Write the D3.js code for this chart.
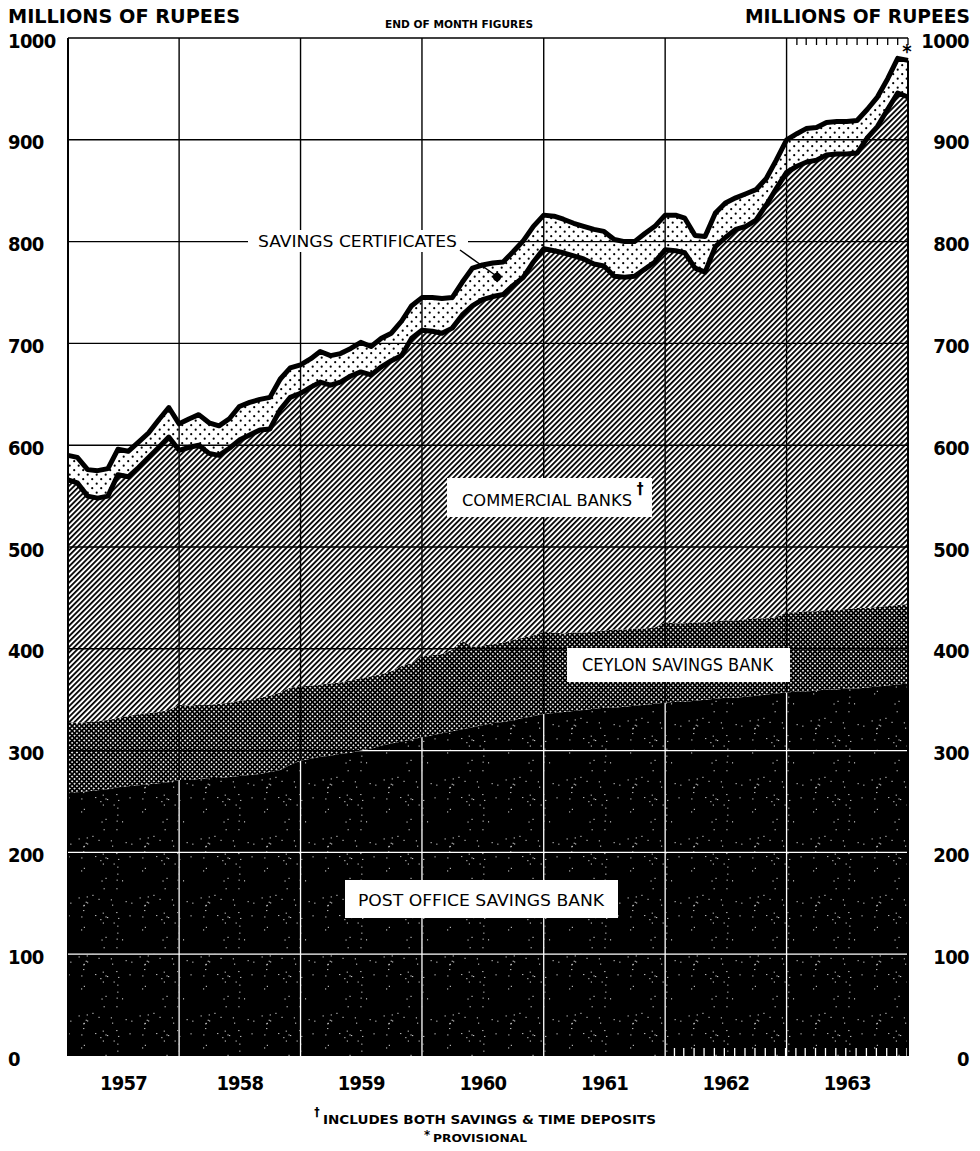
<!DOCTYPE html>
<html><head><meta charset="utf-8">
<script src="https://cdn.jsdelivr.net/npm/d3@7"></script>
<style>body{margin:0;background:#fff} svg{display:block}</style>
</head><body>
<svg id="c" width="980" height="1151"></svg>
<script>
// ---------------- DATA (millions of rupees, end of month, Jan 1957 – Dec 1963) ----------------
const yearLabels = ["1957","1958","1959","1960","1961","1962","1963"];
const yTickValues = [0,100,200,300,400,500,600,700,800,900,1000];

const postOffice = [258,259,260,261,262,264,265,266,267,268,269,271,
271,272,273,273,274,275,276,277,279,281,286,290,
292,294,295,297,298,300,302,305,307,309,311,313,
315,317,319,321,323,325,327,328,330,332,334,336,
337,338,339,340,341,342,342,343,344,345,346,347,
348,348,349,350,351,352,352,353,354,355,356,357,
358,358,359,360,360,361,361,362,363,364,365,366];

const ceylonSavings = [70,68,68,68,68,68,69,70,70,70,71,74,
73,73,72,73,73,74,74,75,75,76,76,73,
72,71,71,70,71,71,71,70,71,74,75,80,
79,78,80,87,79,78,78,78,79,79,79,81,
79,77,77,76,76,76,77,76,76,75,75,79,
77,77,77,76,76,76,76,76,76,75,75,79,
78,79,78,78,78,78,79,78,78,78,78,78];

const commercialBanks = [238,236,222,219,220,239,235,242,251,260,268,250,
254,255,247,244,250,256,260,263,262,278,285,288,
293,297,293,295,299,301,296,302,305,305,319,320,
318,315,316,320,335,340,341,342,348,354,367,376,
375,374,370,367,361,358,347,346,346,353,359,366,
366,364,348,344,368,376,384,386,391,406,421,432,
438,441,443,447,448,447,447,462,472,488,503,498];

const savingsCertificates = [24,25,26,27,27,25,25,25,24,27,29,26,
28,30,30,29,29,33,32,30,31,30,29,28,
28,30,29,28,27,29,28,28,27,34,32,32,
33,34,30,32,37,34,33,32,33,36,35,33,
34,33,32,32,34,34,36,35,34,35,35,34,
35,34,32,35,33,34,31,32,30,26,28,32,
32,33,32,32,32,32,32,28,29,30,34,36];

// ---------------- CHART ----------------
const svg = d3.select("#c");
const NUM = "'DejaVu Sans Condensed','DejaVu Sans',sans-serif";
const LAB = "'Liberation Sans Narrow','DejaVu Sans Condensed',sans-serif";

const dates = postOffice.map((_, i) => new Date(1957, i + 1, 0));
const rows = dates.map((d, i) => ({
  date: d, po: postOffice[i], cs: ceylonSavings[i], cb: commercialBanks[i], sc: savingsCertificates[i]
}));
const keys = ["po", "cs", "cb", "sc"];
const series = d3.stack().keys(keys)(rows);

const x = d3.scaleTime().domain([dates[0], dates[dates.length - 1]]).range([68, 908]);
const y = d3.scaleLinear().domain([0, 1000]).range([1056, 38]);
const X0 = x.range()[0], X1 = x.range()[1];

// patterns
const defs = svg.append("defs");
// commercial banks: diagonal hatch
const ph = defs.append("pattern").attr("id", "hatch").attr("patternUnits", "userSpaceOnUse")
  .attr("width", 3.8).attr("height", 10).attr("patternTransform", "rotate(45)");
ph.append("rect").attr("width", 3.8).attr("height", 10).attr("fill", "#fff");
ph.append("rect").attr("width", 1.8).attr("height", 10).attr("fill", "#000");
// ceylon savings bank: cross hatch (black with white diamonds)
const pc = defs.append("pattern").attr("id", "cross").attr("patternUnits", "userSpaceOnUse")
  .attr("width", 3.4).attr("height", 3.4).attr("patternTransform", "rotate(45)");
pc.append("rect").attr("width", 3.4).attr("height", 3.4).attr("fill", "#000");
pc.append("rect").attr("x", 0.9).attr("y", 0.9).attr("width", 1.6).attr("height", 1.6).attr("fill", "#fff");
// savings certificates: dots
const pd = defs.append("pattern").attr("id", "dots").attr("patternUnits", "userSpaceOnUse")
  .attr("width", 9).attr("height", 9);
pd.append("rect").attr("width", 9).attr("height", 9).attr("fill", "#fff");
[[2.2, 2.2], [6.7, 6.7]].forEach(([cx, cy]) =>
  pd.append("circle").attr("cx", cx).attr("cy", cy).attr("r", 1.1).attr("fill", "#000"));
// post office: black with specks
const pp = defs.append("pattern").attr("id", "speck").attr("patternUnits", "userSpaceOnUse")
  .attr("width", 61).attr("height", 59);
pp.append("rect").attr("width", 61).attr("height", 59).attr("fill", "#000");
let seed = 7;
const lcg = () => (seed = (seed * 16807) % 2147483647) / 2147483647;
for (let k = 0; k < 34; k++) {
  pp.append("rect").attr("x", (lcg() * 61).toFixed(1)).attr("y", (lcg() * 59).toFixed(1))
    .attr("width", 1.1).attr("height", 1.1).attr("fill", "#fff").attr("opacity", 0.85);
}

const fills = { po: "url(#speck)", cs: "url(#cross)", cb: "url(#hatch)", sc: "url(#dots)" };
const area = d3.area().x(d => x(d.data.date)).y0(d => y(d[0])).y1(d => y(d[1]));

svg.append("g").selectAll("path").data(series).join("path")
  .attr("d", area).attr("fill", d => fills[d.key]);

// clip of post office area for white grid lines
defs.append("clipPath").attr("id", "poClip").append("path").attr("d", area(series[0]));

// grid lines
const yearEnds = yearLabels.slice(0, -1).map(yl => new Date(+yl, 11, 31));
const grid = svg.append("g").attr("stroke", "#000").attr("stroke-width", 1.4).attr("fill", "none");
grid.selectAll("line.h").data(yTickValues.filter(v => v > 0)).join("line").attr("class", "h")
  .attr("x1", X0).attr("x2", X1).attr("y1", d => y(d)).attr("y2", d => y(d));
grid.selectAll("line.v").data(yearEnds).join("line").attr("class", "v")
  .attr("x1", d => x(d)).attr("x2", d => x(d)).attr("y1", y(1000)).attr("y2", y(0));
grid.append("line").attr("x1", X0).attr("x2", X0).attr("y1", y(1000)).attr("y2", y(0)).attr("stroke-width", 2);

const wgrid = svg.append("g").attr("clip-path", "url(#poClip)").attr("stroke", "#fff").attr("stroke-width", 1.3);
wgrid.selectAll("line.h").data(yTickValues.filter(v => v > 0)).join("line").attr("class", "h")
  .attr("x1", X0).attr("x2", X1).attr("y1", d => y(d)).attr("y2", d => y(d));
wgrid.selectAll("line.v").data(yearEnds).join("line").attr("class", "v")
  .attr("x1", d => x(d)).attr("x2", d => x(d)).attr("y1", y(1000)).attr("y2", y(0));

// month ticks: top of 1963 (black), bottom of 1962-63 (white)
const months1963 = dates.filter(d => d.getFullYear() === 1963);
const months6263 = dates.filter(d => d.getFullYear() >= 1962);
svg.append("g").selectAll("line").data(months1963).join("line")
  .attr("x1", d => x(d)).attr("x2", d => x(d)).attr("y1", y(1000)).attr("y2", y(1000) + 7)
  .attr("stroke", "#000").attr("stroke-width", 1.3);
svg.append("g").selectAll("line").data(months6263).join("line")
  .attr("x1", d => x(d) - 1).attr("x2", d => x(d) - 1).attr("y1", y(0)).attr("y2", y(0) - 8)
  .attr("stroke", "#fff").attr("stroke-width", 1.3);

// thick outline lines
const topLine = d3.line().x(d => x(d.data.date)).y(d => y(d[1])).curve(d3.curveLinear);
[series[2], series[3]].forEach(s => svg.append("path").attr("d", topLine(s))
  .attr("fill", "none").attr("stroke", "#000").attr("stroke-width", 5).attr("stroke-linejoin", "round"));
const last = series[3][series[3].length - 1];
svg.append("line").attr("x1", X1).attr("x2", X1).attr("y1", y(last[1])).attr("y2", y(0))
  .attr("stroke", "#000").attr("stroke-width", 2);

// y axes
const yAxisL = svg.append("g").call(d3.axisLeft(y).tickValues(yTickValues).tickSize(0).tickFormat(d3.format("d")));
yAxisL.select(".domain").remove();
yAxisL.selectAll("text").attr("x", 8).attr("dy", null).attr("dominant-baseline", "central")
  .attr("text-anchor", "start").attr("transform", "translate(0,2)")
  .style("font-family", NUM).style("font-size", "20px").style("font-weight", "bold").style("letter-spacing", "-0.6px").attr("fill", "#000");
const yAxisR = svg.append("g").call(d3.axisRight(y).tickValues(yTickValues).tickSize(0).tickFormat(d3.format("d")));
yAxisR.select(".domain").remove();
yAxisR.selectAll("text").attr("x", 969).attr("dy", null).attr("dominant-baseline", "central")
  .attr("text-anchor", "end").attr("transform", "translate(0,2)")
  .style("font-family", NUM).style("font-size", "20px").style("font-weight", "bold").style("letter-spacing", "-0.6px").attr("fill", "#000");

// year labels, centred in each year's span
svg.append("g").selectAll("text").data(yearLabels).join("text")
  .attr("x", (yl, i) => {
    const a = Math.max(x(new Date(+yl - 1, 11, 31)), X0);
    const b = Math.min(x(new Date(+yl, 11, 31)), X1);
    return (a + b) / 2;
  })
  .attr("y", 1090).attr("text-anchor", "middle")
  .style("font-family", NUM).style("font-size", "20px").style("font-weight", "bold").style("letter-spacing", "-0.8px")
  .text(d => d);

// titles
const txt = (t, xx, yy, o) => {
  const e = svg.append("text").attr("x", xx).attr("y", yy).text(t)
    .style("font-family", o.f || NUM).style("font-size", o.s + "px").style("font-weight", o.w || "bold")
    .attr("text-anchor", o.a || "start");
  if (o.len) e.attr("textLength", o.len).attr("lengthAdjust", "spacingAndGlyphs");
  if (o.fill) e.attr("fill", o.fill);
  return e;
};
txt("MILLIONS OF RUPEES", 8, 23, { s: 20, len: 232 });
txt("MILLIONS OF RUPEES", 970, 23, { s: 20, len: 225, a: "end" });
txt("END OF MONTH FIGURES", 385, 28, { s: 11, len: 148 });
txt("*", 907, 58, { s: 20, a: "middle" });

// series labels
const box = (x1, y1, x2, y2) => svg.append("rect").attr("x", x1).attr("y", y1)
  .attr("width", x2 - x1).attr("height", y2 - y1).attr("fill", "#fff");
box(248, 230, 468, 252);
txt("SAVINGS CERTIFICATES", 258, 247, { f: LAB, s: 16, w: "normal", len: 199 });
svg.append("line").attr("x1", 460).attr("y1", 250).attr("x2", 495).attr("y2", 275)
  .attr("stroke", "#000").attr("stroke-width", 1.5);
svg.append("circle").attr("cx", 497).attr("cy", 277).attr("r", 4.2).attr("fill", "#000");

box(447, 478, 652, 517);
txt("COMMERCIAL BANKS", 462, 506, { f: LAB, s: 16, w: "normal", len: 170 });
txt("†", 640, 494, { s: 15, a: "middle" });

box(567, 648, 790, 682);
txt("CEYLON SAVINGS BANK", 582, 671, { f: LAB, s: 17, w: "normal", len: 191 });

box(345, 880, 618, 918);
txt("POST OFFICE SAVINGS BANK", 358, 906, { f: LAB, s: 16, w: "normal", len: 246 });

// footnotes
txt("†", 317, 1116, { s: 12, a: "middle" });
txt("INCLUDES BOTH SAVINGS & TIME DEPOSITS", 323, 1124, { s: 11.5, len: 333 });
txt("*", 427, 1139, { s: 13, a: "middle" });
txt("PROVISIONAL", 433, 1142, { s: 11, len: 94 });
</script>
</body></html>
